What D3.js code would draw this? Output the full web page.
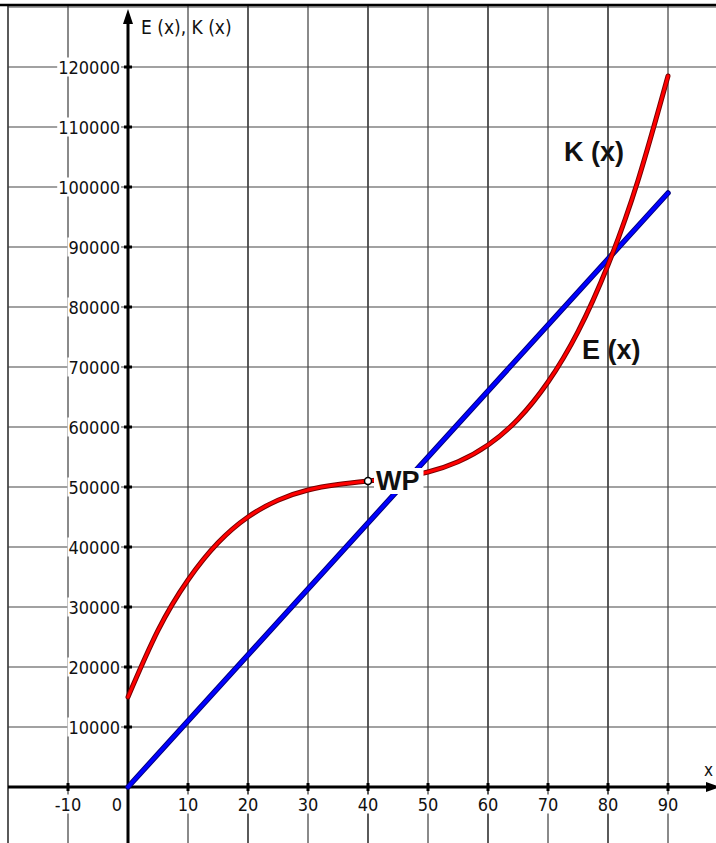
<!DOCTYPE html>
<html>
<head>
<meta charset="utf-8">
<script src="https://cdn.jsdelivr.net/npm/d3@7"></script>
<style>
  body { margin: 0; background: #fff; }
  svg { display: block; }
  .tick-label { font-family: "DejaVu Sans Condensed", "DejaVu Sans", sans-serif; }
  .big { font-family: "Liberation Sans", Arial, sans-serif; font-weight: bold; }
</style>
</head>
<body>
<svg width="716" height="843"></svg>
<script>
// values
var xs = [0, 5, 10, 15, 20, 25, 30, 35, 40, 45, 50, 55, 60, 65, 70, 75, 80, 85, 90];
var eValues = [15000, 26100, 34500, 40700, 45000, 47800, 49500, 50400, 51000, 51600,
               52500, 54200, 57000, 61300, 67500, 75900, 87000, 101100, 118500];
var kXs = [0, 90];
var kValues = [0, 99000];
var xTicks = [-10, 0, 10, 20, 30, 40, 50, 60, 70, 80, 90];
var yTicks = [10000, 20000, 30000, 40000, 50000, 60000, 70000, 80000, 90000, 100000, 110000, 120000];
var wp = {x: 40, y: 51000};

var svg = d3.select("svg");
var W = +svg.attr("width"), H = +svg.attr("height");

var x = d3.scaleLinear().domain([-20, 100]).range([8, 728]);
var y = d3.scaleLinear().domain([0, 120000]).range([787, 67]);

// grid
var grid = svg.append("g");
d3.range(-20, 101, 10).forEach(function (v) {
    if (v === 0) return;
    var odd = (v / 10) % 2 !== 0;
    grid.append("line")
        .attr("x1", x(v)).attr("x2", x(v))
        .attr("y1", 5).attr("y2", H)
        .attr("stroke", odd ? "#8a8a8a" : "#000")
        .attr("stroke-width", odd ? 2 : 1.3);
});
d3.range(10000, 130001, 10000).forEach(function (v) {
    grid.append("line")
        .attr("x1", 8).attr("x2", W)
        .attr("y1", y(v)).attr("y2", y(v))
        .attr("stroke", "#444")
        .attr("stroke-width", 1.2);
});

// top border
svg.append("line").attr("x1", 0).attr("x2", W).attr("y1", 5).attr("y2", 5)
    .attr("stroke", "#000").attr("stroke-width", 2.5);

// tick labels with white boxes
function label(g, txt, tx, ty, anchor) {
    var t = g.append("text")
        .attr("class", "tick-label")
        .attr("x", tx).attr("y", ty)
        .attr("text-anchor", anchor)
        .attr("dominant-baseline", "central")
        .attr("font-size", 18)
        .attr("fill", "#111")
        .text(txt);
    var b = t.node().getBBox();
    g.insert("rect", "text")
        .attr("x", b.x - 1).attr("y", b.y + 1)
        .attr("width", b.width + 2).attr("height", b.height - 2)
        .attr("fill", "#fff");
}
var labels = svg.append("g");
yTicks.forEach(function (v) {
    label(labels, v, x(0) - 8, y(v), "end");
});
xTicks.forEach(function (v) {
    var px = v === 0 ? x(0) - 11 : x(v);
    label(labels, v, px, 804, "middle");
});

// axes
var axes = svg.append("g").attr("stroke", "#000");
axes.append("line").attr("x1", 8).attr("x2", 710)
    .attr("y1", y(0)).attr("y2", y(0)).attr("stroke-width", 3);
axes.append("line").attr("x1", x(0)).attr("x2", x(0))
    .attr("y1", H).attr("y2", 20).attr("stroke-width", 3);
svg.append("path")
    .attr("d", d3.line()([[x(0), 9], [x(0) - 5, 24], [x(0) + 5, 24]]) + "Z")
    .attr("fill", "#000");
svg.append("path")
    .attr("d", d3.line()([[720, y(0)], [706, y(0) - 5], [706, y(0) + 5]]) + "Z")
    .attr("fill", "#000");
xTicks.forEach(function (v) {
    if (v === 0) return;
    axes.append("line").attr("x1", x(v)).attr("x2", x(v))
        .attr("y1", y(0) - 4).attr("y2", y(0) + 4).attr("stroke-width", 3);
});
yTicks.forEach(function (v) {
    axes.append("line").attr("x1", x(0) - 4).attr("x2", x(0) + 4)
        .attr("y1", y(v)).attr("y2", y(v)).attr("stroke-width", 3);
});

svg.append("text").attr("class", "tick-label").attr("x", 141).attr("y", 34)
    .attr("font-size", 19).attr("fill", "#111").text("E (x), K (x)");
svg.append("text").attr("class", "tick-label").attr("x", 704).attr("y", 776)
    .attr("font-size", 17).attr("fill", "#111").text("x");

// curves
var kLine = d3.line()
    .x(function (d, i) { return x(kXs[i]); })
    .y(function (d) { return y(d); });
var eLine = d3.line()
    .x(function (d, i) { return x(xs[i]); })
    .y(function (d) { return y(d); })
    .curve(d3.curveNatural);

var curves = svg.append("g").attr("fill", "none").attr("stroke-linecap", "round");
curves.append("path").attr("d", kLine(kValues)).attr("stroke", "#00007a").attr("stroke-width", 5.5);
curves.append("path").attr("d", kLine(kValues)).attr("stroke", "#0000ff").attr("stroke-width", 3.5);
curves.append("path").attr("d", eLine(eValues)).attr("stroke", "#700").attr("stroke-width", 5);
curves.append("path").attr("d", eLine(eValues)).attr("stroke", "#ff0000").attr("stroke-width", 3);

// annotations
var wpText = svg.append("text")
    .attr("class", "big")
    .attr("x", x(wp.x) + 8).attr("y", y(wp.y))
    .attr("dominant-baseline", "central")
    .attr("font-size", 27)
    .attr("fill", "#111").text("WP");
var bb = wpText.node().getBBox();
svg.insert("rect", function () { return wpText.node(); })
    .attr("x", bb.x - 2).attr("y", bb.y + 2)
    .attr("width", bb.width + 6).attr("height", bb.height - 4)
    .attr("fill", "#fff");
svg.append("circle").attr("cx", x(wp.x)).attr("cy", y(wp.y)).attr("r", 3.5)
    .attr("fill", "#fff").attr("stroke", "#000").attr("stroke-width", 1.5);

svg.append("text").attr("class", "big").attr("x", 564).attr("y", 161)
    .attr("font-size", 27).attr("fill", "#111").text("K (x)");
svg.append("text").attr("class", "big").attr("x", 582).attr("y", 359)
    .attr("font-size", 27).attr("fill", "#111").text("E (x)");
</script>
</body>
</html>
